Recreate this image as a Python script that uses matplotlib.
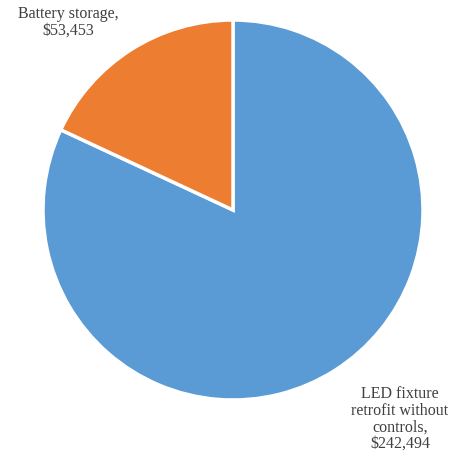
import matplotlib
matplotlib.use("Agg")
import matplotlib.pyplot as plt

# Data
labels = ["LED fixture\nretrofit without\ncontrols,\n$242,494", "Battery storage,\n$53,453"]
values = [242494, 53453]
colors = ["#5B9BD5", "#ED7D31"]

W, H = 458, 459
fig = plt.figure(figsize=(W / 100, H / 100), dpi=100)
cx, cy, r = 233, 210, 190
ax = fig.add_axes([(cx - r) / W, 1 - (cy + r) / H, 2 * r / W, 2 * r / H])

ax.pie(values, colors=colors, startangle=90, counterclock=False, radius=1.0,
       wedgeprops=dict(edgecolor="white", linewidth=2.5))
ax.set_xlim(-1, 1)
ax.set_ylim(-1, 1)
ax.set_aspect("auto")
ax.axis("off")

font = dict(family="Liberation Serif", fontsize=11.5, color="#404040",
            ha="center", va="center", linespacing=1.05)
ax.text((400 - cx) / r, (cy - 419) / r, labels[0], **font)
ax.text((68 - cx) / r, (cy - 22) / r, labels[1], **font)

fig.savefig("out.png", dpi=100)
